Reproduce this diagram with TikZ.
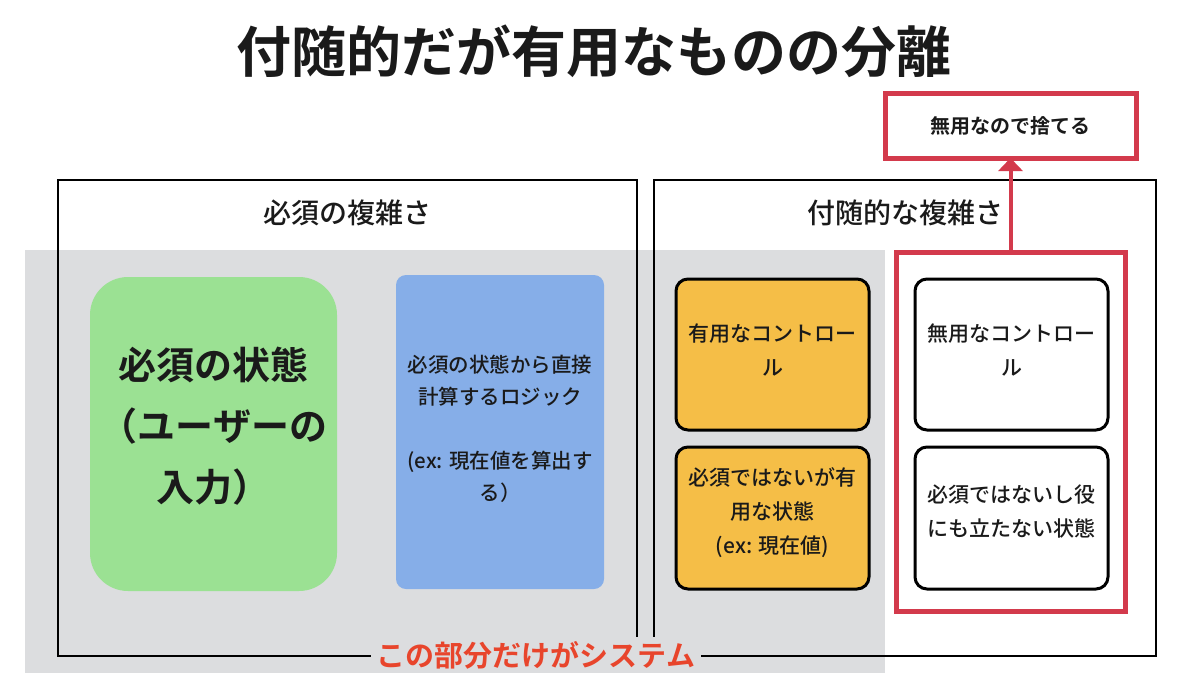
\documentclass[tikz,border=0pt]{standalone}
\usepackage{fontspec}
\setmainfont{Noto Sans CJK JP}[BoldFont={Noto Sans CJK JP Bold}]
\newfontfamily\medfont{Noto Sans CJK JP Medium}
\usetikzlibrary{arrows.meta}
\definecolor{graybg}{HTML}{DCDDDF}
\definecolor{redc}{HTML}{D33A4C}
\definecolor{greenc}{HTML}{9BE193}
\definecolor{bluec}{HTML}{86AEE8}
\definecolor{orangec}{HTML}{F5BE47}
\definecolor{labelc}{HTML}{E8452C}
\definecolor{txt}{HTML}{1A1A1A}
\begin{document}
\begin{tikzpicture}[x=1pt,y=-1pt,
  every node/.style={inner sep=0pt, outer sep=0pt, text=txt},
  frame/.style={draw=black, line width=2.5pt, minimum height=476pt},
  heading/.style={font=\medfont\fontsize{28}{32}\selectfont},
  smallbox/.style={draw=black, line width=3pt, rounded corners=12pt, minimum width=193pt},
  smalltext/.style={align=center, font=\medfont\fontsize{21}{34}\selectfont},
  redbox/.style={draw=redc, line width=5pt}
]
\useasboundingbox (0,0) rectangle (1200,683);
\node[fill=graybg, minimum width=860pt, minimum height=423pt] (bg) at (455,461.5) {};
\node[frame, minimum width=579pt] (ess) at (347.5,418) {};
\node[frame, minimum width=502pt] (acc) at (905,418) {};
\node[heading] (esst) at (347,213) {必須の複雑さ};
\node[heading] (acct) at (905,213) {付随的な複雑さ};
\node[font=\fontsize{55}{60}\bfseries\selectfont] (title) at (594,51) {付随的だが有用なものの分離};

\node[fill=greenc, rounded corners=38pt, minimum width=247pt, minimum height=314pt] (state) at (213.5,434) {};
\node[align=center, font=\fontsize{38}{61}\bfseries\selectfont] (statet) at ([yshift=8pt]state.center)
  {必須の状態\\（ユーザーの\\入力）};
\node[fill=bluec, rounded corners=10pt, minimum width=208pt, minimum height=314pt] (logic) at (500,432) {};
\node[align=center, font=\medfont\fontsize{20.5}{32}\selectfont] (logict) at ([yshift=3pt]logic.center)
  {必須の状態から直接\\計算するロジック\\\mbox{}\\(ex: 現在値を算出す\\る）};

\node[smallbox, fill=orangec, minimum height=151pt] (usectl) at (772.5,354.5) {};
\node[smalltext] (usectlt) at ([yshift=5pt]usectl.center) {有用なコントロー\\ル};
\node[smallbox, fill=orangec, minimum height=142pt] (usestate) at (772.5,518) {};
\node[smalltext] (usestatet) at ([yshift=5pt]usestate.center) {必須ではないが有\\用な状態\\(ex: 現在値)};
\node[smallbox, fill=white, minimum height=151pt] (uselessctl) at (1011.5,354.5) {};
\node[smalltext] (uselessctlt) at ([yshift=5pt]uselessctl.center) {無用なコントロー\\ル};
\node[smallbox, fill=white, minimum height=142pt] (uselessstate) at (1011.5,518) {};
\node[smalltext] (uselessstatet) at ([yshift=6pt]uselessstate.center) {必須ではないし役\\にも立たない状態};

\node[redbox, minimum width=229pt, minimum height=359pt] (useless) at (1010.5,431.5) {};
\node[redbox, minimum width=251pt, minimum height=65pt, font=\fontsize{20}{24}\bfseries\selectfont] (discard) at (1010.5,125.5) {無用なので捨てる};
\draw[redc, line width=4pt, -{Triangle[length=13pt,width=24pt]}] (useless.north) -- (discard.south);

\node[fill=graybg, text=labelc, inner xsep=6pt, minimum height=36pt,
  font=\fontsize{29}{32}\bfseries\selectfont] (system) at (536,655) {この部分だけがシステム};
\end{tikzpicture}
\end{document}
